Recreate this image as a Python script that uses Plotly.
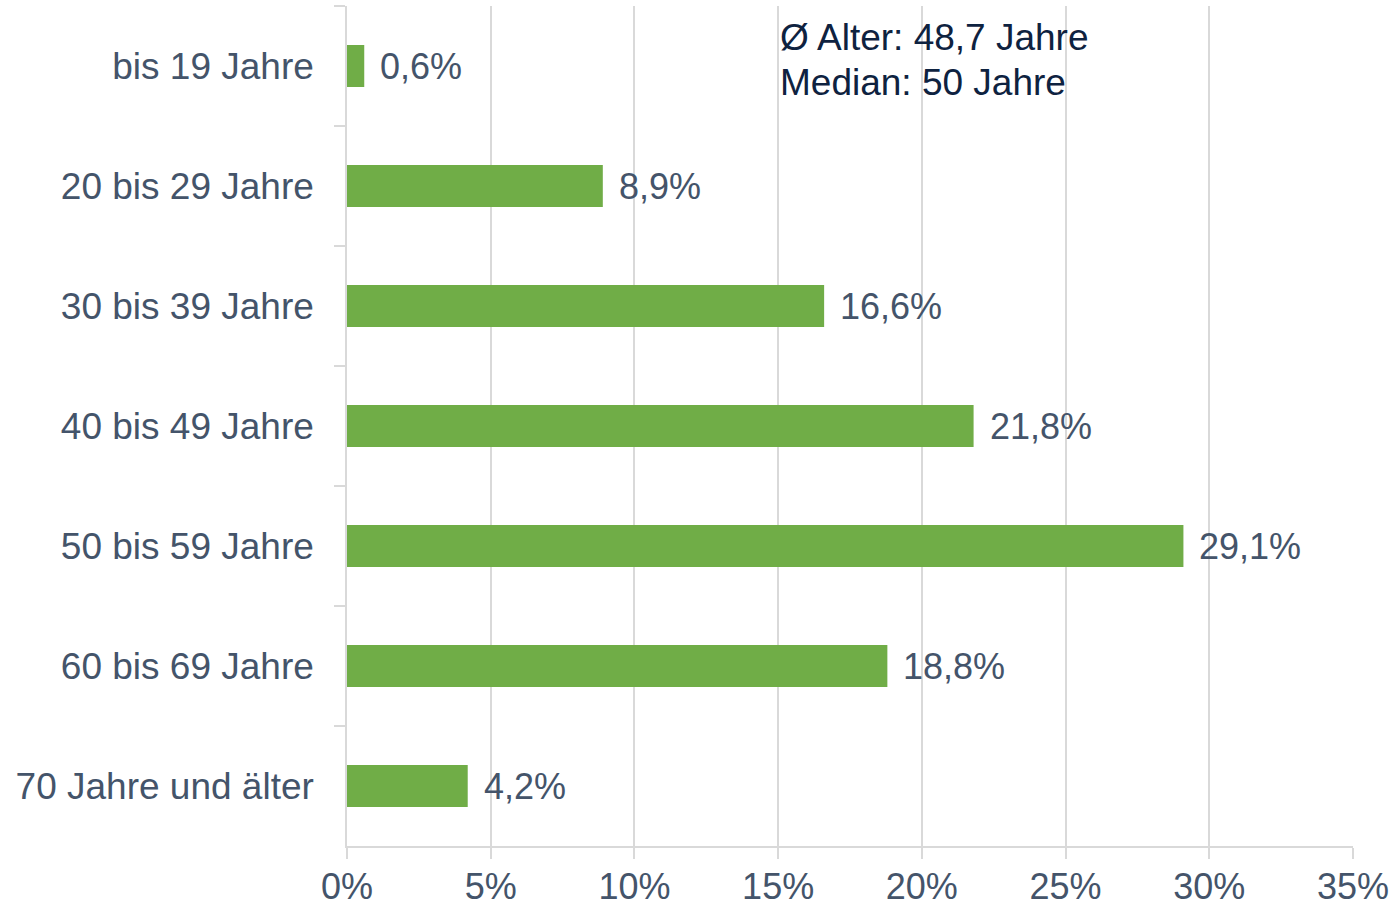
import plotly.graph_objects as go

categories = ["bis 19 Jahre", "20 bis 29 Jahre", "30 bis 39 Jahre", "40 bis 49 Jahre",
              "50 bis 59 Jahre", "60 bis 69 Jahre", "70 Jahre und älter"]
values = [0.6, 8.9, 16.6, 21.8, 29.1, 18.8, 4.2]
value_labels = ["0,6%", "8,9%", "16,6%", "21,8%", "29,1%", "18,8%", "4,2%"]
x_ticks = [0, 5, 10, 15, 20, 25, 30, 35]
x_tick_labels = ["0%", "5%", "10%", "15%", "20%", "25%", "30%", "35%"]
info_lines = ["Ø Alter: 48,7 Jahre", "Median: 50 Jahre"]

font_family = "Liberation Sans, Arial, sans-serif"
label_color = "#44546A"
grid_color = "#D9D9D9"

fig = go.Figure()
fig.add_trace(go.Bar(
    y=categories, x=values, orientation="h",
    marker=dict(color="#70AD47", line=dict(width=0)),
    hoverinfo="skip",
))

for c, v, t in zip(categories, values, value_labels):
    fig.add_annotation(x=v, y=c, xref="x", yref="y", text=t, showarrow=False,
                       xanchor="left", yanchor="middle", xshift=14,
                       font=dict(size=36, color=label_color, family=font_family))

for line, shift in zip(info_lines, [-31, -76]):
    fig.add_annotation(x=15, y=1, xref="x", yref="paper", text=line, showarrow=False,
                       xanchor="left", yanchor="middle", align="left", yshift=shift,
                       font=dict(size=37, color="#0E2240", family=font_family))

fig.update_layout(
    width=1394, height=908,
    margin=dict(l=347, r=41, t=6, b=62),
    paper_bgcolor="white", plot_bgcolor="white",
    bargap=0.65,
    showlegend=False,
    font=dict(family=font_family, size=36, color=label_color),
    xaxis=dict(
        range=[0, 35], tickvals=x_ticks, ticktext=x_tick_labels,
        showgrid=True, gridcolor=grid_color, gridwidth=1.5,
        showline=True, linecolor=grid_color, linewidth=1.5,
        ticks="outside", ticklen=11, tickcolor=grid_color, tickwidth=1.5,
        zeroline=False, tickfont=dict(size=36, color=label_color),
        ticklabelstandoff=-3,
        automargin=False, fixedrange=True,
    ),
    yaxis=dict(
        autorange="reversed", type="category",
        showline=True, linecolor=grid_color, linewidth=1.5,
        ticks="outside", tickson="boundaries", ticklen=11, tickcolor=grid_color, tickwidth=1.5,
        showgrid=False, zeroline=False,
        tickfont=dict(size=37, color=label_color),
        ticklabelstandoff=24,
        automargin=False, fixedrange=True,
    ),
)

fig.write_html("out.html", config={"displayModeBar": False},
               post_script="document.body.style.margin='0px';")
